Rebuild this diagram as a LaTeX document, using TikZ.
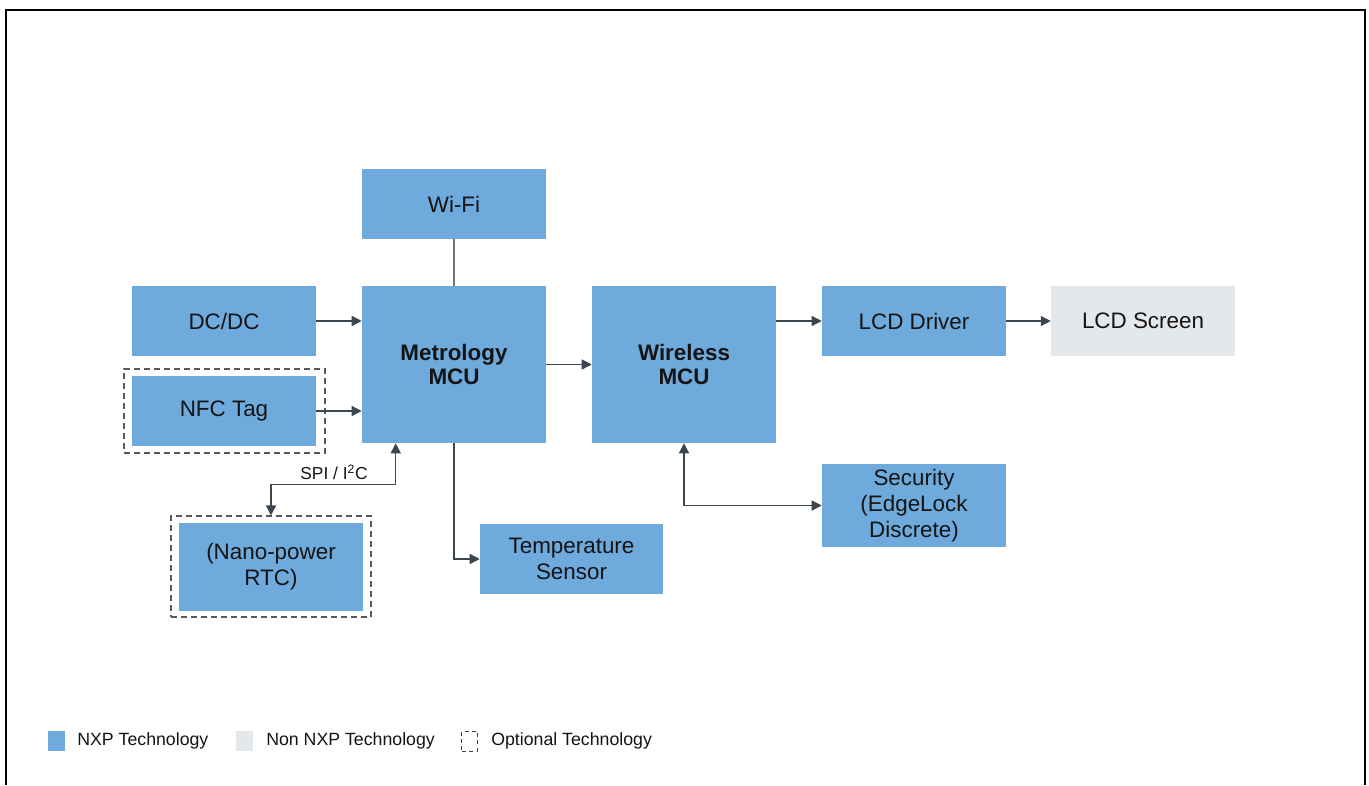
\documentclass[tikz,border=0pt]{standalone}
\usepackage{fontspec}
\setmainfont{Liberation Sans}
\usetikzlibrary{arrows.meta,calc}
\definecolor{nxpblue}{RGB}{110,170,220}
\definecolor{nonnxp}{RGB}{229,232,235}
\definecolor{arr}{RGB}{60,70,80}
\definecolor{txt}{RGB}{20,20,20}
\begin{document}
\begin{tikzpicture}[x=0.75pt,y=-0.75pt,
  blk/.style={fill=nxpblue,draw=none,minimum width=138pt,minimum height=52.5pt,inner sep=0pt,align=center,text=txt,font=\fontsize{16.8}{19.7}\selectfont},
  bblk/.style={blk,minimum height=117.75pt,font=\fontsize{16.8}{17.3}\selectfont\bfseries},
  gblk/.style={blk,fill=nonnxp},
  opt/.style={draw=black!65,dashed,dash pattern=on 4.5pt off 3pt,line width=0.8pt,fill=none,inner sep=0pt},
  conn/.style={draw=arr,line width=1pt},
  tip/.style={-{Triangle[length=7.5pt,width=7.5pt]}},
  tips/.style={{Triangle[length=7.5pt,width=7.5pt]}-{Triangle[length=7.5pt,width=7.5pt]}},
  legtxt/.style={anchor=west,text=txt,font=\fontsize{13.3}{15}\selectfont,inner sep=0pt}
]
\useasboundingbox (0,0) rectangle (1369,785);
% frame
\draw[line width=2.2pt,black] (6,785) -- (6,10) -- (1365,10) -- (1365,785);

% blocks
\node[blk] (wifi) at (454,204) {Wi-Fi};
\node[blk] (dcdc) at (224,321) {DC/DC};
\node[blk] (nfc) at (224,411) {NFC Tag};
\node[bblk] (metro) at (454,364.5) {Metrology\\MCU};
\node[bblk] (wireless) at (684,364.5) {Wireless\\MCU};
\node[blk] (lcdd) at (914,321) {LCD Driver};
\node[gblk] (lcds) at (1143,321) {LCD Screen};
\node[blk,minimum height=62.25pt] (sec) at (914,505.5) {Security\\(EdgeLock\\Discrete)};
\node[blk,minimum width=137.25pt] (temp) at (571.5,559) {Temperature\\Sensor};
\node[blk,minimum height=66pt] (rtc) at (271,567) {(Nano-power\\RTC)};

% optional outlines
\node[opt,minimum width=150.75pt,minimum height=63pt] (nfcopt) at (224.5,411) {};
\node[opt,minimum width=150pt,minimum height=75.75pt] (rtcopt) at (271,566.5) {};

% connectors
\draw[conn,tip] (dcdc.east) -- (dcdc.east -| metro.west);
\draw[conn,tip] (nfc.east) -- (nfc.east -| metro.west);
\draw[conn,tip] (metro.east) -- (wireless.west);
\draw[conn,tip] (wireless.east |- lcdd.west) -- (lcdd.west);
\draw[conn,tip] (lcdd.east) -- (lcds.west);
\draw[conn,draw=black!55] (wifi.south) -- (metro.north);
\draw[conn,tip] (metro.south) |- (temp.west);
\coordinate (spi) at ($(metro.south west)+(34,0)$);
\draw[conn,tips] (rtcopt.north) -- ++(0,-31) -| (spi);
\draw[conn,tips] (wireless.south) |- (sec.west);
\node[text=txt,font=\fontsize{13}{15}\selectfont,inner sep=0pt] (spilbl) at (334,472) {SPI / I\textsuperscript{2}C};

% legend
\node[fill=nxpblue,minimum width=13pt,minimum height=15pt,inner sep=0pt] (lg1) at (56.5,741) {};
\node[legtxt] (lt1) at (77,741) {NXP Technology};
\node[fill=nonnxp,minimum width=13pt,minimum height=15pt,inner sep=0pt] (lg2) at (244.5,741) {};
\node[legtxt] (lt2) at (266,741) {Non NXP Technology};
\node[draw=black!75,dashed,dash pattern=on 3pt off 2.5pt,line width=0.7pt,minimum width=11.5pt,minimum height=15pt,inner sep=0pt] (lg3) at (469.5,741) {};
\node[legtxt] (lt3) at (491,741) {Optional Technology};
\end{tikzpicture}
\end{document}
